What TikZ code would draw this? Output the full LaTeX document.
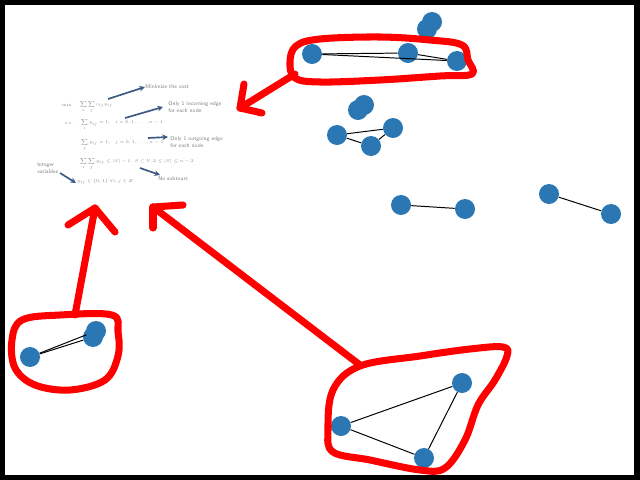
\documentclass[tikz,border=0pt]{standalone}
\usepackage{amsmath,amssymb}
\usetikzlibrary{arrows.meta}
\definecolor{nodeblue}{HTML}{2A77B4}
\definecolor{arrowblue}{HTML}{3D5A80}
\tikzset{
  vtx/.style={circle,fill=nodeblue,minimum size=0.5cm,inner sep=0pt},
  edge/.style={black,line width=0.7pt},
  pen/.style={red,line width=5pt,line cap=round,line join=round},
  note/.style={text=gray,font=\sffamily\fontsize{3.9}{4.5}\selectfont,align=left,anchor=west,inner sep=0pt},
  eq/.style={text=gray,font=\fontsize{5}{6}\selectfont,anchor=west,inner sep=0pt,scale=0.6,transform shape},
  hint/.style={-{Stealth[length=4pt,width=4pt]},line width=1.2pt,draw=arrowblue}
}
\begin{document}
\begin{tikzpicture}[x=0.025cm,y=-0.025cm]
        \useasboundingbox (0,0) rectangle (640,480);
        \fill[black] (0,0) rectangle (640,480);
        \fill[white] (5,5) rectangle (634,475);
        % model
        \node[eq] at (62,105) {min};
        \node[eq] (obj) at (80,107) {$\displaystyle\sum_i\sum_j c_{ij}y_{ij}$};
        \node[eq] at (65,123) {s.t.};
        \node[eq] (inc) at (81,125) {$\displaystyle\sum_i y_{ij}=1,\quad i=0,1,\ldots,n-1$};
        \node[eq] (out) at (81,145) {$\displaystyle\sum_j y_{ij}=1,\quad j=0,1,\ldots,n-1$};
        \node[eq] (sub) at (80,164) {$\displaystyle\sum_i\sum_j y_{ij}\le|S|-1\quad S\subset V,2\le|S|\le n-2$};
        \node[eq] (int) at (77,182) {$y_{ij}\in\{0,1\}\;\forall i,j\in E$};
        \node[note] (n1) at (145,87) {Minimize the cost};
        \node[note] (n2) at (168,107) {Only 1 incoming edge\\for each node};
        \node[note] (n3) at (170,142) {Only 1 outgoing edge\\for each node};
        \node[note] (n4) at (37,168) {Integer\\variables};
        \node[note] (n5) at (158,179) {No subtours};
        \coordinate (m1) at (108,99);  \coordinate (m2) at (145,87);
        \coordinate (i1) at (125,118); \coordinate (i2) at (163,107);
        \coordinate (o1) at (148,138); \coordinate (o2) at (168,137);
        \coordinate (s1) at (140,168); \coordinate (s2) at (160,175);
        \coordinate (v1) at (60,173);  \coordinate (v2) at (76,183);
        \foreach \a/\b in {m1/m2,i1/i2,o1/o2,s1/s2,v1/v2}
            \draw[hint] (\a) -- (\b);
        % nodes
        \node[vtx] (t1) at (312,54) {};
        \node[vtx] (t2) at (408,53) {};
        \node[vtx] (t3) at (457,61) {};
        \node[vtx] (t4) at (432,22) {};
        \node[vtx] (t5) at (427,29) {};
        \node[vtx] (c1) at (364,105) {};
        \node[vtx] (c2) at (358,110) {};
        \node[vtx] (c3) at (337,135) {};
        \node[vtx] (c4) at (393,128) {};
        \node[vtx] (c5) at (371,146) {};
        \node[vtx] (p1) at (401,205) {};
        \node[vtx] (p2) at (465,209) {};
        \node[vtx] (q1) at (549,194) {};
        \node[vtx] (q2) at (611,214) {};
        \node[vtx] (l1) at (30,357) {};
        \node[vtx] (l2) at (96,331) {};
        \node[vtx] (l3) at (93,337) {};
        \node[vtx] (b1) at (462,383) {};
        \node[vtx] (b2) at (341,426) {};
        \node[vtx] (b3) at (424,458) {};
        \foreach \a/\b in {t1/t2,t1/t3,t2/t3,c3/c4,c3/c5,c4/c5,p1/p2,q1/q2,l1/l2,l1/l3,b1/b2,b2/b3,b1/b3}
            \draw[edge] (\a) -- (\b);
        % red marks
        \draw[pen] plot[smooth cycle,tension=0.6] coordinates {(290,62) (296,46) (320,39) (380,37) (430,40) (462,45) (468,60) (472,74) (440,76) (380,80) (320,82) (295,78)};
        \draw[pen] (295,74) -- (240,108) -- (244,84);
        \draw[pen] (240,108) -- (262,113);
        \draw[pen] plot[smooth cycle,tension=0.6] coordinates {(12,340) (22,320) (60,315) (112,315) (118,332) (118,356) (105,380) (70,390) (35,385) (15,368)};
        \draw[pen] (75,315) -- (95,208) -- (68,225);
        \draw[pen] (95,208) -- (115,232);
        \draw[pen] (360,365) -- (153,207) -- (183,205);
        \draw[pen] (153,207) -- (153,228);
        \draw[pen] plot[smooth cycle,tension=0.6] coordinates {(360,366) (333,390) (328,430) (333,452) (370,460) (420,470) (445,468) (465,440) (478,405) (495,380) (507,356) (503,347) (470,349) (420,356)};
    \end{tikzpicture}
\end{document}
